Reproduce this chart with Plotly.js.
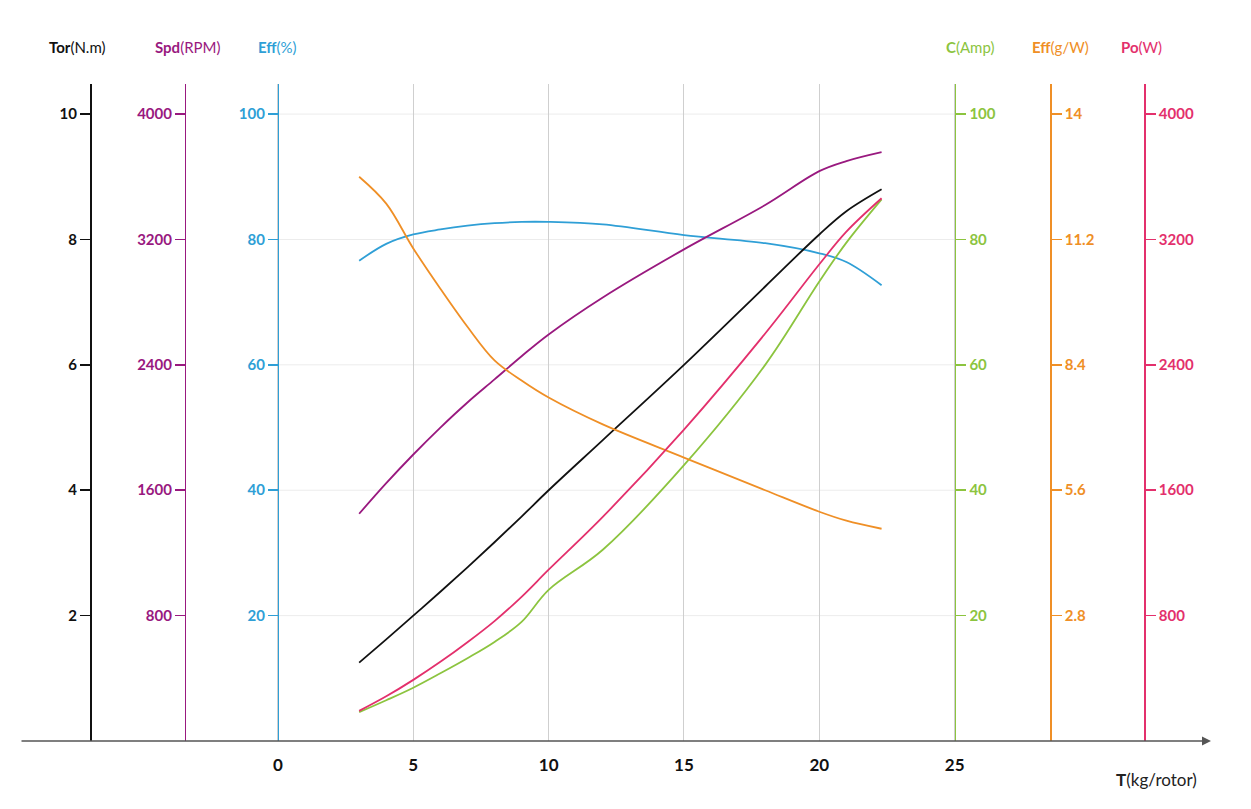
<!DOCTYPE html>
<html><head><meta charset="utf-8">
<script src="https://cdn.plot.ly/plotly-3.0.1.min.js"></script>
<style>body{margin:0;background:#fff}#chart{width:1251px;height:809px}</style>
</head><body><div id="chart"></div>
<script>
// thrust (kg/rotor) sample points
const thrust = [3, 4, 5, 6, 7, 8, 9, 10, 12, 15, 18, 20, 21, 22.3];
const torque = [1.25, 1.62, 2.0, 2.38, 2.77, 3.17, 3.58, 4.0, 4.8, 6.0, 7.25, 8.08, 8.45, 8.8];
const speed = [1450, 1645, 1828, 2000, 2160, 2307, 2455, 2594, 2830, 3137, 3420, 3636, 3700, 3757];
const effPct = [76.6, 79.3, 80.8, 81.6, 82.2, 82.6, 82.8, 82.8, 82.4, 80.7, 79.4, 77.8, 76.4, 72.7];
const effGW = [12.6, 12.0, 11.0, 10.1, 9.25, 8.5, 8.05, 7.67, 7.07, 6.33, 5.6, 5.12, 4.92, 4.74];
const current = [4.6, 6.5, 8.5, 10.8, 13.2, 15.8, 19.0, 24.1, 30.5, 44, 60, 73.3, 79.5, 86.4];
const power = [192, 285, 390, 505, 630, 765, 920, 1093, 1430, 1987, 2600, 3042, 3250, 3463];

const xTicks = [0, 5, 10, 15, 20, 25];
const gridY = [20, 40, 60, 80, 100];

const C = {tor:'#111111', spd:'#99197f', eff:'#2f9fd6', amp:'#8cc43f', gw:'#ef8f26', po:'#e3306c'};
const F = 'Lato, "Noto Sans", sans-serif';

function tr(y, axis, color){
  return {x: thrust, y: y, yaxis: axis, type:'scatter', mode:'lines',
    line:{color: color, width: 1.8, shape:'spline'}, hoverinfo:'skip'};
}
const data = [
  tr(torque,'y2',C.tor), tr(speed,'y3',C.spd), tr(effPct,'y',C.eff),
  tr(current,'y4',C.amp), tr(effGW,'y5',C.gw), tr(power,'y6',C.po)
];

function yax(range, dtick, color, pos, side, fmt){
  const vals = []; for (let v = dtick; v <= range[1]*0.97; v += dtick) vals.push(+v.toFixed(2));
  const a = {range: range, anchor:'free', position: pos, side: side,
    showgrid:false, zeroline:false, showline:true, linecolor: color, linewidth:1.5,
    ticks:'outside', ticklen:10, tickwidth:1.5, tickcolor: color,
    tickvals: vals, ticktext: vals.map(v => '<b>'+(fmt?fmt(v):v)+'</b>'),
    tickfont:{color: color, size:15, family:F}, fixedrange:true};
  return a;
}
const ext = 1.048;
const y2 = yax([0,10*ext],2,C.tor,0.0588,'left');
const y3 = yax([0,4000*ext],800,C.spd,0.1385,'left');
const y4 = yax([0,100*ext],20,C.amp,0.785,'right');
const y5 = yax([0,14*ext],2.8,C.gw,0.865,'right', v=>+v.toFixed(1));
const y6 = yax([0,4000*ext],800,C.po,0.944,'right');
[y2,y3,y4,y5,y6].forEach(a => a.overlaying = 'y');

const layout = {
  width:1251, height:809, margin:{l:20, r:40, t:84, b:68},
  paper_bgcolor:'#fff', plot_bgcolor:'#fff', showlegend:false,
  xaxis:{range:[-9.53, 34.47], tickvals: xTicks, ticktext: xTicks.map(v=>'<b>'+v+'</b>'),
    showgrid:true, gridcolor:'#cfcfcf', gridwidth:1, zeroline:false, showline:false, ticks:'',
    tickfont:{size:17, color:'#111', family:F}, ticklabelstandoff:12},
  yaxis: yax([0,100*ext],20,C.eff,0.2166,'left'),
  yaxis2: y2, yaxis3: y3, yaxis4: y4, yaxis5: y5, yaxis6: y6,
  shapes: gridY.map(v => ({type:'line', xref:'x', yref:'y', x0:0, x1:25, y0:v, y1:v,
    line:{color:'#ececec', width:1}, layer:'below'})),
  annotations: [
    {xref:'paper', yref:'paper', x:1.0, y:0, ax:-1191, ay:0, showarrow:true, arrowhead:2,
     arrowsize:1.2, arrowwidth:1.5, arrowcolor:'#555', text:''},
    {xref:'x', yref:'y', x:0, y:100*ext+0.5, ax:0, ay:25, showarrow:true, arrowhead:2,
     arrowsize:1.3, arrowwidth:1.5, arrowcolor:C.eff, text:''},
    {xref:'paper', yref:'paper', x:0.99, y:-0.04, xanchor:'right', yanchor:'top', showarrow:false,
     text:'<b>T</b>(kg/rotor)', font:{size:17, color:'#222', family:F}},
    ...[['Tor','(N.m)',C.tor,77],['Spd','(RPM)',C.spd,187],['Eff','(%)',C.eff,277],
        ['C','(Amp)',C.amp,970],['Eff','(g/W)',C.gw,1060],['Po','(W)',C.po,1141]].map(a => ({
      xref:'paper', yref:'paper', x:(a[3]-20)/1191, y:(809-68-47)/(809-84-68), xanchor:'center', yanchor:'middle',
      showarrow:false, text:'<b>'+a[0]+'</b>'+a[1], font:{size:15, color:a[2], family:F}}))
  ]
};
Plotly.newPlot('chart', data, layout, {displayModeBar:false, staticPlot:true});
</script></body></html>
